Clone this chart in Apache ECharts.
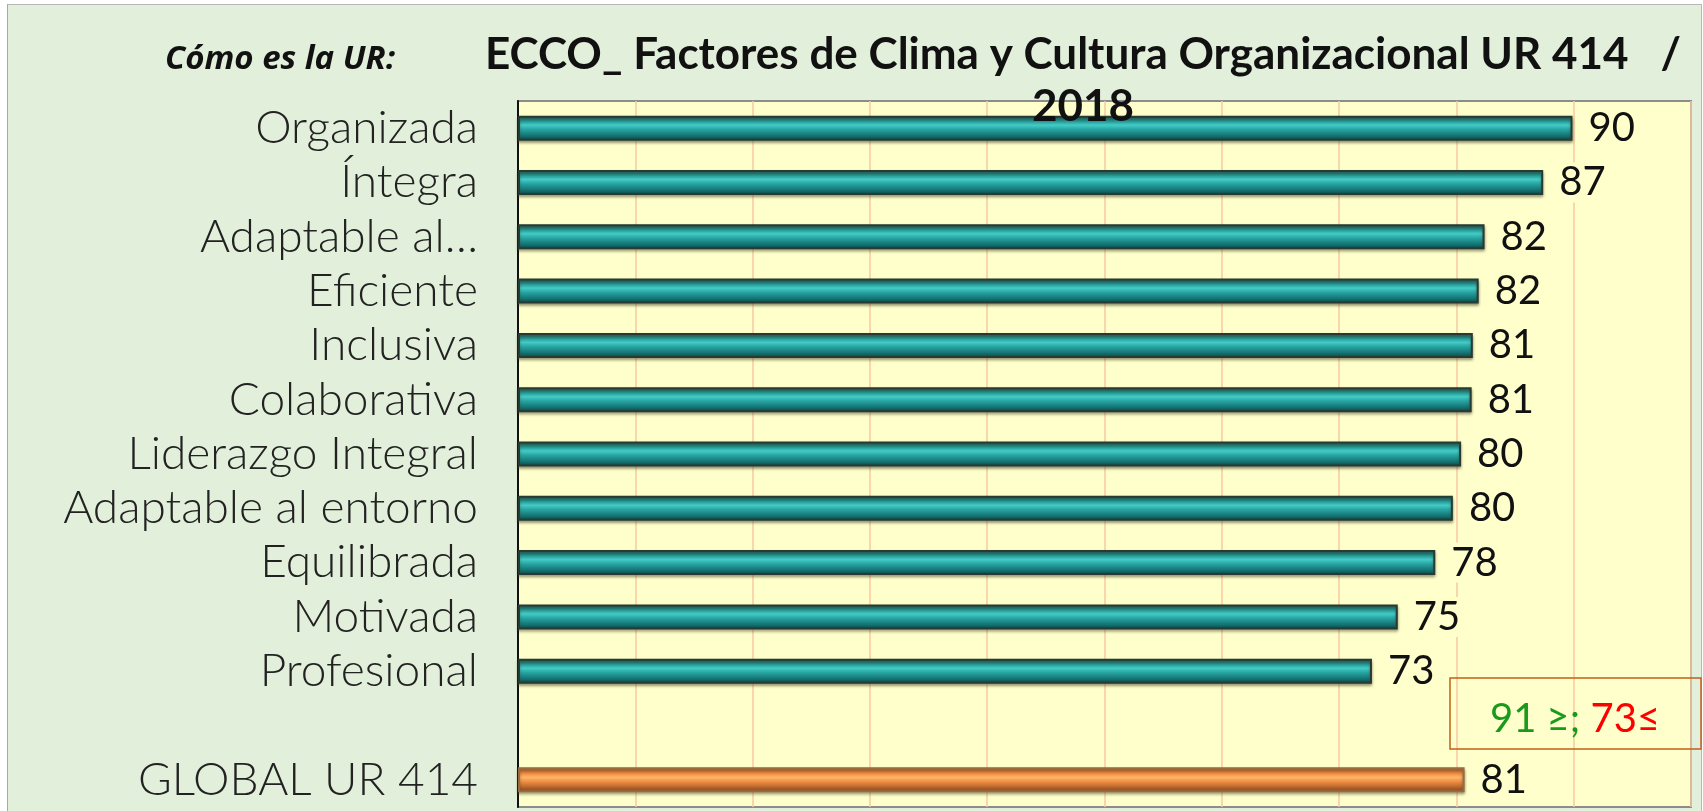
<!DOCTYPE html>
<html>
<head>
<meta charset="utf-8">
<script src="https://cdn.jsdelivr.net/npm/echarts@6/dist/echarts.min.js"></script>
<style>
  html, body { margin: 0; padding: 0; background: #ffffff; }
  #frame {
    position: absolute; left: 7px; top: 4px; width: 1693px; height: 812px;
    background: #e2efda; border-left: 1px solid #a8a8a8; border-top: 1px solid #b8b8b8; border-right: 1px solid #b8b8b8;
  }
  #chart { position: absolute; left: 0; top: 0; width: 1703px; height: 811px; }
</style>
</head>
<body>
<div id="frame"></div>
<div id="chart"></div>
<script>
// categorias (de arriba hacia abajo)
var categorias = ['Organizada', 'Íntegra', 'Adaptable al…', 'Eficiente', 'Inclusiva', 'Colaborativa',
    'Liderazgo Integral', 'Adaptable al entorno', 'Equilibrada', 'Motivada', 'Profesional', '', 'GLOBAL UR 414'];
// valores
var valores = [89.9, 87.4, 82.4, 81.9, 81.4, 81.3, 80.4, 79.7, 78.2, 75.0, 72.8, null, 80.7];
var esGlobal = [false, false, false, false, false, false, false, false, false, false, false, false, true];
var ejeX = { min: 0, max: 100, intervalo: 10 };

var chart = echarts.init(document.getElementById('chart'));

var teal = new echarts.graphic.LinearGradient(0, 0, 0, 1, [
    { offset: 0, color: '#0c5050' },
    { offset: 0.18, color: '#1b8e8c' },
    { offset: 0.38, color: '#44cbc6' },
    { offset: 0.55, color: '#27a5a3' },
    { offset: 0.82, color: '#137070' },
    { offset: 1, color: '#0a4242' }
]);
var naranja = new echarts.graphic.LinearGradient(0, 0, 0, 1, [
    { offset: 0, color: '#b05a22' },
    { offset: 0.2, color: '#e8823a' },
    { offset: 0.4, color: '#ffb466' },
    { offset: 0.6, color: '#e88a40' },
    { offset: 0.85, color: '#a85a26' },
    { offset: 1, color: '#7a4a22' }
]);

var datos = valores.map(function (v, i) {
    return {
        value: v,
        itemStyle: esGlobal[i]
            ? { color: naranja, borderColor: '#9a6a40', borderWidth: 2 }
            : { color: teal, borderColor: '#283a32', borderWidth: 2 }
    };
});

var option = {
    animation: false,
    title: {
        text: 'ECCO_ Factores de Clima y Cultura Organizacional UR 414   /\n2018',
        left: 1078,
        top: 24,
        textAlign: 'center',
        textStyle: {
            fontFamily: 'Lato',
            fontSize: 44,
            fontWeight: 'bold',
            color: '#111',
            lineHeight: 52
        }
    },
    grid: {
        left: 518,
        right: 12,
        top: 101,
        bottom: 4,
        show: true,
        backgroundColor: '#ffffcc',
        borderColor: '#8c8c8c',
        borderWidth: 2
    },
    xAxis: {
        type: 'value',
        min: ejeX.min,
        max: ejeX.max,
        interval: ejeX.intervalo,
        axisLabel: { show: false },
        axisLine: { show: false },
        axisTick: { show: false },
        splitLine: { lineStyle: { color: '#f8c8a0', width: 1.5 } }
    },
    yAxis: {
        type: 'category',
        inverse: true,
        data: categorias,
        axisLine: { lineStyle: { color: '#111', width: 2 } },
        axisTick: { length: 13, lineStyle: { color: '#222', width: 1.5 } },
        axisLabel: {
            interval: 0,
            margin: 40,
            fontFamily: 'Lato',
            fontWeight: 300,
            fontSize: 46,
            color: '#222'
        }
    },
    series: [
        {
            type: 'bar',
            data: datos,
            barWidth: 25,
            itemStyle: {
                shadowColor: 'rgba(70,70,40,0.55)',
                shadowBlur: 3,
                shadowOffsetY: 2
            },
            label: {
                show: true,
                position: 'right',
                distance: 12,
                fontFamily: 'Lato',
                fontSize: 40,
                color: '#111',
                backgroundColor: '#ffffcc',
                padding: [0, 4],
                formatter: function (p) { return Math.round(p.value); }
            }
        }
    ],
    graphic: [
        {
            type: 'text',
            left: 165,
            top: 43,
            style: {
                text: 'Cómo es la UR:',
                fontFamily: 'Open Sans',
                fontStyle: 'italic',
                fontWeight: 'bold',
                fontSize: 33,
                fill: '#111'
            }
        },
        {
            type: 'rect',
            shape: { x: 1450, y: 678, width: 251, height: 71 },
            style: { fill: 'rgba(0,0,0,0)', stroke: '#c0601a', lineWidth: 1.5 },
            z: 10
        },
        {
            type: 'text',
            x: 1575,
            y: 719,
            z: 10,
            style: {
                text: '{g|91 ≥; }{r|73≤}',
                align: 'center',
                verticalAlign: 'middle',
                rich: {
                    g: { fontFamily: 'Lato', fontSize: 40, fill: '#1a9a1a' },
                    r: { fontFamily: 'Lato', fontSize: 40, fill: '#ff0000' }
                }
            }
        }
    ]
};

chart.setOption(option);
</script>
</body>
</html>
